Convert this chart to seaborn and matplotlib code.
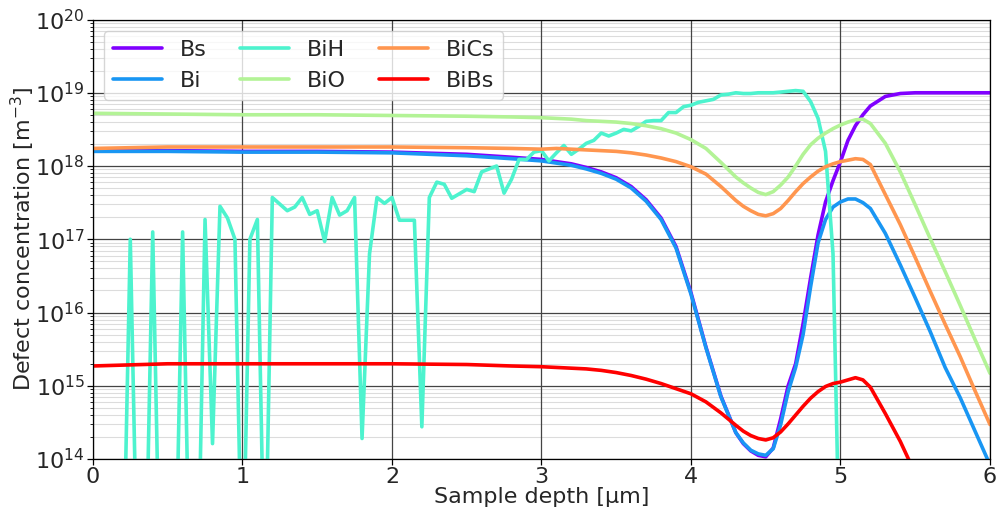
import numpy as np
import pandas as pd
import matplotlib
matplotlib.use("Agg")
import matplotlib.pyplot as plt
from matplotlib.ticker import NullFormatter, FixedLocator
import seaborn as sns

# ---------------- data (log10 of defect concentration, m^-3) ----------------
depth = [0.0, 0.5, 1.0, 1.5, 2.0, 2.5, 2.8,
         3.0, 3.1, 3.2, 3.3, 3.4, 3.5, 3.6, 3.7, 3.8, 3.9, 4.0, 4.1, 4.2, 4.3,
         4.35, 4.4, 4.45, 4.5, 4.55, 4.6, 4.65, 4.7, 4.75, 4.8, 4.85, 4.9, 4.95,
         5.0, 5.05, 5.1, 5.15, 5.2,
         5.3, 5.4, 5.5, 5.6, 5.7, 5.8, 5.9, 6.0]

bs_log = [18.21, 18.21, 18.20, 18.20, 18.19, 18.16, 18.12,
          18.09, 18.06, 18.03, 17.98, 17.92, 17.84, 17.72, 17.54, 17.29, 16.90, 16.27, 15.53, 14.86, 14.36,
          14.21, 14.11, 14.05, 14.03, 14.15, 14.55, 15.00, 15.30, 15.85, 16.47, 17.06, 17.51, 17.80,
          18.06, 18.35, 18.55, 18.70, 18.82,
          18.95, 18.99, 19.00, 19.00, 19.00, 19.00, 19.00, 19.00]

bi_log = [18.20, 18.20, 18.19, 18.19, 18.18, 18.14, 18.10,
          18.07, 18.04, 18.01, 17.96, 17.90, 17.82, 17.70, 17.52, 17.27, 16.88, 16.25, 15.52, 14.85, 14.36,
          14.22, 14.12, 14.07, 14.05, 14.14, 14.47, 14.92, 15.25, 15.70, 16.35, 16.95, 17.27, 17.44,
          17.51, 17.55, 17.55, 17.50, 17.42,
          17.08, 16.65, 16.20, 15.74, 15.25, 14.84, 14.38, 13.92]

bio_log = [18.72, 18.71, 18.70, 18.70, 18.69, 18.68, 18.67,
           18.66, 18.65, 18.64, 18.62, 18.61, 18.60, 18.58, 18.55, 18.51, 18.45, 18.36, 18.24, 18.05, 17.85,
           17.77, 17.70, 17.64, 17.61, 17.65, 17.74, 17.85, 18.00, 18.16, 18.29, 18.38, 18.45, 18.51,
           18.56, 18.60, 18.63, 18.64, 18.58,
           18.31, 17.92, 17.47, 17.01, 16.56, 16.10, 15.63, 15.17]

bics_log = [18.24, 18.26, 18.26, 18.26, 18.26, 18.25, 18.24,
            18.23, 18.24, 18.23, 18.22, 18.21, 18.20, 18.18, 18.15, 18.11, 18.06, 17.99, 17.89, 17.72, 17.53,
            17.45, 17.39, 17.34, 17.32, 17.35, 17.42, 17.53, 17.65, 17.76, 17.85, 17.93, 17.99, 18.03,
            18.06, 18.08, 18.10, 18.09, 18.02,
            17.61, 17.20, 16.75, 16.29, 15.84, 15.40, 14.93, 14.47]

bibs_log = [15.27, 15.30, 15.30, 15.30, 15.30, 15.29, 15.27,
            15.26, 15.25, 15.24, 15.23, 15.21, 15.18, 15.14, 15.09, 15.03, 14.96, 14.89, 14.78, 14.63, 14.46,
            14.38, 14.32, 14.28, 14.26, 14.29, 14.37, 14.48, 14.60, 14.72, 14.83, 14.92, 14.99, 15.03,
            15.05, 15.08, 15.11, 15.08, 14.98,
            14.62, 14.24, 13.80, 13.35, 12.90, 12.45, 12.00, 11.50]

# BiH is noisy, sampled every 0.05 um
bih_depth = [round(0.05 * i, 2) for i in range(121)]
bih_log = [12, 12, 12, 12, 12, 17.00, 12, 12, 17.10, 12,
           12, 12, 17.10, 12, 12, 17.27, 14.21, 17.45, 17.29, 17.00,
           12, 17.00, 17.27, 12, 17.57, 17.48, 17.39, 17.44, 17.57, 17.34,
           17.39, 16.97, 17.57, 17.33, 17.39, 17.57, 14.28, 16.80, 17.57, 17.49,
           17.57, 17.26, 17.26, 17.26, 14.44, 17.57, 17.78, 17.75, 17.56, 17.62,
           17.68, 17.65, 17.92, 17.96, 18.00, 17.63, 17.82, 18.09, 18.09, 18.19,
           18.21, 18.07, 18.18, 18.28, 18.16, 18.23, 18.31, 18.35, 18.45, 18.41,
           18.45, 18.50, 18.48, 18.54, 18.61, 18.62, 18.62, 18.73, 18.73, 18.81,
           18.83, 18.87, 18.89, 18.91, 18.97, 18.98, 19.00, 18.99, 18.99, 19.00,
           19.00, 19.00, 19.01, 19.02, 19.03, 19.02, 18.88, 18.65, 18.20, 16.80,
           12, 12, 12, 12, 12, 12, 12, 12, 12, 12,
           12, 12, 12, 12, 12, 12, 12, 12, 12, 12, 12]

names = ["Bs", "Bi", "BiH", "BiO", "BiCs", "BiBs"]
y_major = [1e14, 1e15, 1e16, 1e17, 1e18, 1e19, 1e20]
x_ticks = [0, 1, 2, 3, 4, 5, 6]

# ---------------- long table ----------------
frames = []
for name, xs, ys in [("Bs", depth, bs_log), ("Bi", depth, bi_log),
                     ("BiH", bih_depth, bih_log), ("BiO", depth, bio_log),
                     ("BiCs", depth, bics_log), ("BiBs", depth, bibs_log)]:
    frames.append(pd.DataFrame({"depth": xs,
                                "conc": np.power(10.0, np.array(ys, dtype=float)),
                                "defect": name}))
df = pd.concat(frames, ignore_index=True)

# ---------------- plot ----------------
sns.set_theme(style="white")
plt.rcParams["font.family"] = ["DejaVu Sans"]
plt.rcParams["mathtext.fontset"] = "dejavusans"

fig = plt.figure(figsize=(9.99, 5.14), dpi=100)
ax = fig.add_axes([0.093, 0.107, 0.898, 0.855])

palette = list(plt.cm.rainbow(np.linspace(0, 1, 6)))
ax.set_yscale("log")
sns.lineplot(data=df, x="depth", y="conc", hue="defect", hue_order=names,
             palette=palette, estimator=None, sort=False, linewidth=2.6, ax=ax)

ax.set_xlim(0, 6)
ax.set_ylim(1e14, 1e20)
ax.set_xticks(x_ticks)
ax.yaxis.set_major_locator(FixedLocator(y_major))
minor = [k * m for m in y_major[:-1] for k in range(2, 10)]
ax.yaxis.set_minor_locator(FixedLocator(minor))
ax.yaxis.set_minor_formatter(NullFormatter())
ax.grid(True, which="major", color="#444444", linewidth=0.9)
ax.grid(True, which="minor", axis="y", color="#dcdcdc", linewidth=0.8)
ax.set_axisbelow(True)
# draw the vertical (x) grid above the light minor y grid
ax.yaxis.set_zorder(0.5)
ax.xaxis.set_zorder(0.6)
for s in ax.spines.values():
    s.set_color("black")
    s.set_linewidth(0.9)
ax.tick_params(axis="both", which="major", labelsize=16, direction="out",
               length=4, width=0.9, left=True, bottom=True, color="black", pad=2)
ax.tick_params(axis="y", which="minor", left=True, length=2, width=0.6, color="black")

ax.set_xlabel("Sample depth [µm]", fontsize=16, labelpad=0)
ax.set_ylabel("Defect concentration [m$^{-3}$]", fontsize=16, labelpad=-1)

ax.legend(ncol=3, loc="upper left", fontsize=16, handlelength=2.2,
          columnspacing=1.5, framealpha=0.8, edgecolor="#cccccc")

fig.savefig("out.png", dpi=100)
